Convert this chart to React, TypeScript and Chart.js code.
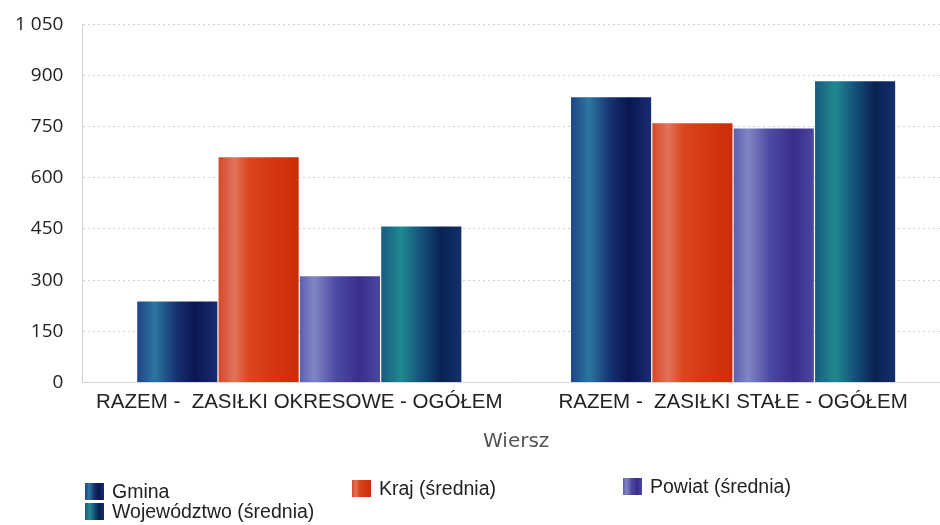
import React, { useEffect, useRef } from "react";
import { Chart, registerables } from "chart.js";

Chart.register(...registerables);

const categories = ["RAZEM -  ZASIŁKI OKRESOWE - OGÓŁEM", "RAZEM -  ZASIŁKI STAŁE - OGÓŁEM"];
const seriesNames = ["Gmina", "Kraj (średnia)", "Powiat (średnia)", "Województwo (średnia)"];
const gmina = [237, 836];
const kraj = [660, 760];
const powiat = [311, 745];
const wojewodztwo = [457, 883];
const yTickLabels = ["0", "150", "300", "450", "600", "750", "900", "1 050"];
const xTitle = "Wiersz";

const gradientStops: [number, string][][] = [
  [[0, "#1d4488"], [0.22, "#2c76a0"], [0.5, "#15306f"], [0.72, "#0a1650"], [1, "#1a2c72"]],
  [[0, "#d44a28"], [0.2, "#e2735a"], [0.38, "#db4620"], [0.7, "#d33610"], [1, "#cc2c0a"]],
  [[0, "#5a60ae"], [0.18, "#8086c4"], [0.45, "#4c4aa2"], [0.75, "#3a2e8a"], [1, "#4a46a2"]],
  [[0, "#1a5a80"], [0.25, "#1f8a90"], [0.5, "#14507a"], [0.75, "#0a2252"], [1, "#11306a"]],
];
const baseColors = ["#15306f", "#d63a10", "#4a4aa0", "#14507a"];

function cssGradient(stops: [number, string][]) {
  return "linear-gradient(to right, " + stops.map(([p, c]) => `${c} ${p * 100}%`).join(", ") + ")";
}

export default function App() {
  const canvasRef = useRef<HTMLCanvasElement | null>(null);

  useEffect(() => {
    const canvas = canvasRef.current;
    if (!canvas) return;
    const makeBg = (di: number) => (ctx: any) => {
      const chart = ctx.chart;
      const meta = chart.getDatasetMeta(ctx.datasetIndex);
      const el: any = meta && meta.data ? meta.data[ctx.dataIndex] : null;
      if (!el || typeof el.x !== "number" || !el.width || isNaN(el.x)) return baseColors[di];
      const g = chart.ctx.createLinearGradient(el.x - el.width / 2, 0, el.x + el.width / 2, 0);
      gradientStops[di].forEach(([p, c]) => g.addColorStop(p, c));
      return g;
    };
    const values = [gmina, kraj, powiat, wojewodztwo];
    const chart = new Chart(canvas, {
      type: "bar",
      data: {
        labels: categories,
        datasets: values.map((v, i) => ({
          label: seriesNames[i],
          data: v,
          backgroundColor: makeBg(i),
          borderWidth: 0,
          barPercentage: 0.985,
          categoryPercentage: 0.75,
        })),
      },
      options: {
        animation: false,
        responsive: false,
        maintainAspectRatio: false,
        layout: { padding: { left: 12, top: 5, right: 2, bottom: 67 } },
        plugins: {
          legend: { display: false },
          tooltip: { enabled: false },
        },
        scales: {
          x: {
            grid: { display: false, drawTicks: false },
            border: { display: true, color: "#d8d8d8" },
            ticks: {
              color: "#222",
              padding: 8,
              font: { family: "'Liberation Sans'", size: 20.5 },
            },
            title: {
              display: true,
              text: xTitle,
              color: "#555",
              padding: { top: 7, bottom: 4 },
              font: { family: "'DejaVu Sans'", size: 20 },
            },
          },
          y: {
            min: 0,
            max: 1050,
            grid: { color: "#cfcfcf", drawTicks: false },
            border: { display: true, color: "#d0d0d0", dash: [2, 3] },
            ticks: {
              stepSize: 150,
              padding: 19,
              color: "#222",
              font: { family: "'Open Sans'", size: 19 },
              callback: (_v: any, idx: number) => yTickLabels[idx],
            },
          },
        },
      },
    });
    (chart.options.scales as any).y.grid.borderDash = [2, 3];
    chart.update("none");
    return () => chart.destroy();
  }, []);

  const legendPos = [
    { left: 85, cy: 491 },
    { left: 352, cy: 488 },
    { left: 623, cy: 486 },
    { left: 85, cy: 511 },
  ];

  return (
    <div style={{ position: "absolute", left: 0, top: 0, width: 952, height: 525, background: "#fff", overflow: "hidden" }}>
      <canvas ref={canvasRef} width={968} height={531} style={{ display: "block", position: "absolute", left: -16, top: -6 }} />
      {seriesNames.map((name, i) => (
        <div
          key={name}
          style={{
            position: "absolute",
            left: legendPos[i].left,
            top: legendPos[i].cy - 11,
            height: 22,
            display: "flex",
            alignItems: "center",
            fontFamily: "'Liberation Sans'",
            fontSize: 19.5,
            lineHeight: "22px",
            color: "#222",
            whiteSpace: "nowrap",
          }}
        >
          <span style={{ display: "inline-block", width: 19, height: 17, background: cssGradient(gradientStops[i]), marginRight: 8 }} />
          <span>{name}</span>
        </div>
      ))}
    </div>
  );
}
